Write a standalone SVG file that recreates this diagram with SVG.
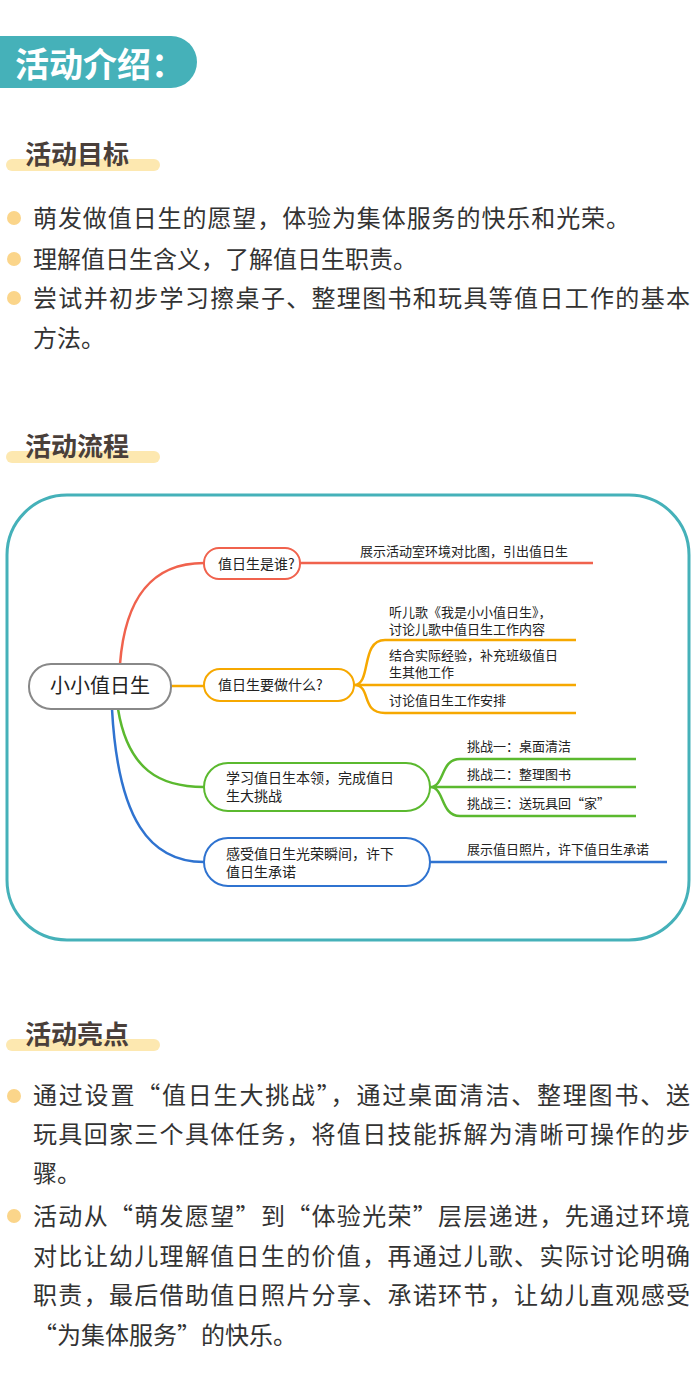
<svg xmlns="http://www.w3.org/2000/svg" width="700" height="1388" viewBox="0 0 700 1388">
<style>
text{font-family:"Noto Sans CJK SC","Noto Sans",sans-serif}
.h{font-size:26px;font-weight:bold;fill:#4a3f3a}
.bar{fill:#fde8b0}
.b{font-size:24px;fill:#333}
.dot{fill:#fbd58a}
.n{fill:#fff;stroke-width:2}
.t{font-size:14px;fill:#222}
.s{font-size:13px;fill:#222}
.c{fill:none;stroke-width:2.5}
</style>
<rect width="700" height="1388" fill="#fff"/>
<g id="header">
<path d="M0 36 H171 A26 26 0 0 1 171 88 H0 Z" fill="#45b1b9"/>
<text x="15" y="77" font-size="34" font-weight="bold" fill="#fff">活动介绍：</text>
</g>
<g id="goals">
<rect class="bar" x="6" y="159" width="154" height="12" rx="6"/>
<text class="h" x="25" y="164">活动目标</text>
<circle class="dot" cx="14" cy="218" r="7"/>
<text class="b" x="33" y="227" textLength="597">萌发做值日生的愿望，体验为集体服务的快乐和光荣。</text>
<circle class="dot" cx="14" cy="259" r="7"/>
<text class="b" x="33" y="268">理解值日生含义，了解值日生职责。</text>
<circle class="dot" cx="14" cy="298" r="7"/>
<text class="b" x="33" y="307" textLength="657">尝试并初步学习擦桌子、整理图书和玩具等值日工作的基本</text>
<text class="b" x="33" y="347">方法。</text>
</g>
<g id="flow-title">
<rect class="bar" x="6" y="451" width="154" height="12" rx="6"/>
<text class="h" x="25" y="456">活动流程</text>
</g>
<rect x="7" y="495" width="682" height="445" rx="60" fill="none" stroke="#45b1b9" stroke-width="3"/>
<g id="connectors">
<path class="c" stroke="#f0624d" d="M120 664 C125 600 150 563 204 563"/>
<path class="c" stroke="#f0624d" stroke-width="2" d="M300 563 H593"/>
<path class="c" stroke="#f6a800" d="M171 686 H204"/>
<path class="c" stroke="#f6a800" stroke-width="2" d="M354 685 C372 685 360 640 385 640 H576 M354 685 H576 M354 685 C372 685 360 713 385 713 H576"/>
<path class="c" stroke="#5bb92f" d="M118 709 C128 770 160 787 204 787"/>
<path class="c" stroke="#5bb92f" stroke-width="2" d="M430 787 C445 787 440 759 460 759 H636 M430 787 H636 M430 787 C445 787 440 816 460 816 H636"/>
<path class="c" stroke="#2f73d0" d="M112 709 C118 820 150 862 204 862"/>
<path class="c" stroke="#2f73d0" stroke-width="2" d="M430 862 H667"/>
</g>
<g id="root">
<rect class="n" x="29" y="664" width="142" height="45" rx="22" stroke="#888"/>
<text x="100" y="693" font-size="20" text-anchor="middle" fill="#222">小小值日生</text>
</g>
<g id="n1">
<rect class="n" x="204" y="548" width="96" height="31" rx="15" stroke="#f0624d"/>
<text class="t" x="218" y="569">值日生是谁?</text>
<text class="s" x="360" y="556">展示活动室环境对比图，引出值日生</text>
</g>
<g id="n2">
<rect class="n" x="204" y="669" width="150" height="32" rx="16" stroke="#f6a800"/>
<text class="t" x="218" y="690">值日生要做什么?</text>
<text class="s" x="389" y="617">听儿歌《我是小小值日生》，</text>
<text class="s" x="389" y="634">讨论儿歌中值日生工作内容</text>
<text class="s" x="389" y="660">结合实际经验，补充班级值日</text>
<text class="s" x="389" y="677">生其他工作</text>
<text class="s" x="389" y="705">讨论值日生工作安排</text>
</g>
<g id="n3">
<rect class="n" x="204" y="763" width="226" height="48" rx="24" stroke="#5bb92f"/>
<text class="t" x="226" y="783">学习值日生本领，完成值日</text>
<text class="t" x="226" y="801">生大挑战</text>
<text class="s" x="467" y="751">挑战一：桌面清洁</text>
<text class="s" x="467" y="779">挑战二：整理图书</text>
<text class="s" x="467" y="808">挑战三：送玩具回“家”</text>
</g>
<g id="n4">
<rect class="n" x="204" y="838" width="226" height="48" rx="24" stroke="#2f73d0"/>
<text class="t" x="226" y="859">感受值日生光荣瞬间，许下</text>
<text class="t" x="226" y="877">值日生承诺</text>
<text class="s" x="467" y="854">展示值日照片，许下值日生承诺</text>
</g>
<g id="highlights">
<rect class="bar" x="6" y="1039" width="154" height="12" rx="6"/>
<text class="h" x="25" y="1044">活动亮点</text>
<circle class="dot" cx="14" cy="1096" r="7"/>
<text class="b" x="33" y="1104" textLength="657">通过设置“值日生大挑战”，通过桌面清洁、整理图书、送</text>
<text class="b" x="33" y="1143" textLength="657">玩具回家三个具体任务，将值日技能拆解为清晰可操作的步</text>
<text class="b" x="33" y="1182">骤。</text>
<circle class="dot" cx="14" cy="1216" r="7"/>
<text class="b" x="33" y="1225" textLength="657">活动从“萌发愿望”到“体验光荣”层层递进，先通过环境</text>
<text class="b" x="33" y="1265" textLength="657">对比让幼儿理解值日生的价值，再通过儿歌、实际讨论明确</text>
<text class="b" x="33" y="1304" textLength="657">职责，最后借助值日照片分享、承诺环节，让幼儿直观感受</text>
<text class="b" x="33" y="1344">“为集体服务”的快乐。</text>
</g>
</svg>
